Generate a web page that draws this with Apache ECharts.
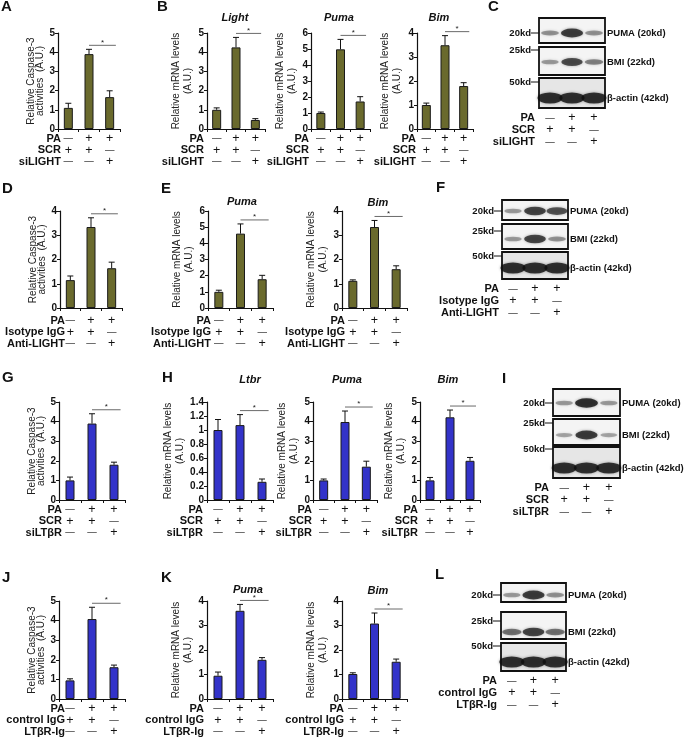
<!DOCTYPE html>
<html><head><meta charset="utf-8">
<script src="https://cdn.jsdelivr.net/npm/echarts@6/dist/echarts.min.js"></script>
<style>html,body{margin:0;padding:0;background:#fff}#c{width:685px;height:738px}</style>
</head><body><div id="c"></div>
<script>
// ================= DATA =================
const signPA    = ['—','+','+'];
const signCtrl  = ['+','+','—'];
const signTreat = ['—','—','+'];
const conditions = ['ctrl','PA','PA+treat'];

const rowsSiLight = ['PA','SCR','siLIGHT'];
const rowsAnti    = ['PA','Isotype IgG','Anti-LIGHT'];
const rowsSiLtbr  = ['PA','SCR','siLTβR'];
const rowsIg      = ['PA','control IgG','LTβR-Ig'];

const yTitleCasp = 'Relative Caspase-3\nactivities  (A.U.)';
const yTitleMrna = 'Relative mRNA levels\n(A.U.)';

// bar values and upper error (SEM)
const caspA = [1.10, 3.90, 1.66];  const caspAErr = [0.24, 0.25, 0.33];
const lightB = [1.00, 4.25, 0.47]; const lightBErr = [0.10, 0.52, 0.07];
const pumaB = [1.00, 4.98, 1.72];  const pumaBErr = [0.06, 0.62, 0.30];
const bimB = [1.00, 3.49, 1.79];   const bimBErr = [0.08, 0.40, 0.14];
const caspD = [1.15, 3.34, 1.64];  const caspDErr = [0.17, 0.38, 0.25];
const pumaE = [1.00, 4.60, 1.78];  const pumaEErr = [0.10, 0.60, 0.24];
const bimE = [1.12, 3.34, 1.60];   const bimEErr = [0.04, 0.27, 0.14];
const caspG = [1.00, 3.90, 1.80];  const caspGErr = [0.17, 0.50, 0.13];
const ltbrH = [1.00, 1.07, 0.26];  const ltbrHErr = [0.15, 0.15, 0.04];
const pumaH = [1.00, 3.98, 1.70];  const pumaHErr = [0.07, 0.56, 0.28];
const bimH = [1.00, 4.22, 2.00];   const bimHErr = [0.15, 0.37, 0.17];
const caspJ = [0.95, 4.08, 1.62];  const caspJErr = [0.08, 0.60, 0.11];
const pumaK = [0.95, 3.60, 1.60];  const pumaKErr = [0.15, 0.26, 0.09];
const bimK = [1.02, 3.08, 1.52];   const bimKErr = [0.05, 0.43, 0.11];

// western blot band intensities (0..1) per lane
const pumaBandC = [0.35, 0.90, 0.35]; const bmiBandC = [0.30, 0.80, 0.45]; const actinBandC = [1, 1, 1];
const pumaBandF = [0.30, 0.85, 0.75]; const bmiBandF = [0.30, 0.85, 0.35]; const actinBandF = [1, 1, 1];
const pumaBandI = [0.30, 1.00, 0.30]; const bmiBandI = [0.25, 0.90, 0.25]; const actinBandI = [1, 1, 1];
const pumaBandL = [0.30, 0.90, 0.35]; const bmiBandL = [0.55, 0.85, 0.55]; const actinBandL = [1, 1, 1];
const proteinLabels = ['PUMA (20kd)', 'BMI (22kd)', 'β-actin (42kd)'];
const kdLabels = ['20kd', '25kd', '50kd'];
const panelLetters = ['A','B','C','D','E','F','G','H','I','J','K','L'];

// ================= LAYOUT / STYLE =================
const FONT = '"Liberation Sans", Arial, sans-serif';
const OLIVE = '#6a6a2d';
const BLUE = '#3333c9';
const LH = 11.5;

const barLayout = [
  {v:caspA, e:caspAErr, max:5, step:1, x0:58, x1:120, y0:33, y1:129, c:OLIVE, rows:rowsSiLight, rowX:61, yt:yTitleCasp, gap:13, lh:9.5, m:4},
  {v:lightB, e:lightBErr, max:5, step:1, x0:207, x1:265, y0:33, y1:129, c:OLIVE, rows:rowsSiLight, rowX:204, yt:yTitleMrna, gap:12, lh:12, m:4, gene:'Light', gx:235, gy:18},
  {v:pumaB, e:pumaBErr, max:6, step:1, x0:311, x1:370, y0:33, y1:129, c:OLIVE, rows:rowsSiLight, rowX:309, yt:yTitleMrna, gap:12, lh:12, m:4, gene:'Puma', gx:339, gy:18},
  {v:bimB, e:bimBErr, max:4, step:1, x0:417, x1:473, y0:33, y1:129, c:OLIVE, rows:rowsSiLight, rowX:416, yt:yTitleMrna, gap:14, lh:12, m:4, gene:'Bim', gx:439, gy:18},
  {v:caspD, e:caspDErr, max:4, step:1, x0:60, x1:122, y0:211, y1:308, c:OLIVE, rows:rowsAnti, rowX:65, yt:yTitleCasp, gap:13, lh:9.5, m:7},
  {v:pumaE, e:pumaEErr, max:6, step:1, x0:208, x1:273, y0:211, y1:308, c:OLIVE, rows:rowsAnti, rowX:211, yt:yTitleMrna, gap:13, lh:12, m:7, gene:'Puma', gx:242, gy:202},
  {v:bimE, e:bimEErr, max:4, step:1, x0:342, x1:407, y0:211, y1:308, c:OLIVE, rows:rowsAnti, rowX:345, yt:yTitleMrna, gap:10, lh:12, m:7, gene:'Bim', gx:378, gy:203},
  {v:caspG, e:caspGErr, max:5, step:1, x0:59, x1:125, y0:402, y1:500, c:BLUE, rows:rowsSiLtbr, rowX:62, yt:yTitleCasp, gap:13, lh:9.5, m:4},
  {v:ltbrH, e:ltbrHErr, max:1.4, step:0.2, x0:207, x1:273, y0:402, y1:500, c:BLUE, rows:rowsSiLtbr, rowX:203, yt:yTitleMrna, gap:14, lh:12, m:4, gene:'Ltbr', gx:250, gy:380},
  {v:pumaH, e:pumaHErr, max:5, step:1, x0:313, x1:377, y0:402, y1:500, c:BLUE, rows:rowsSiLtbr, rowX:312, yt:yTitleMrna, gap:11, lh:12, m:4, gene:'Puma', gx:347, gy:380},
  {v:bimH, e:bimHErr, max:5, step:1, x0:420, x1:480, y0:402, y1:500, c:BLUE, rows:rowsSiLtbr, rowX:418, yt:yTitleMrna, gap:12, lh:12, m:4, gene:'Bim', gx:448, gy:380},
  {v:caspJ, e:caspJErr, max:5, step:1, x0:59, x1:125, y0:601, y1:699, c:BLUE, rows:rowsIg, rowX:65, yt:yTitleCasp, gap:13, lh:9.5, m:4},
  {v:pumaK, e:pumaKErr, max:4, step:1, x0:207, x1:273, y0:601, y1:699, c:BLUE, rows:rowsIg, rowX:204, yt:yTitleMrna, gap:12, lh:12, m:4, gene:'Puma', gx:248, gy:590},
  {v:bimK, e:bimKErr, max:4, step:1, x0:342, x1:407, y0:601, y1:699, c:BLUE, rows:rowsIg, rowX:344, yt:yTitleMrna, gap:10, lh:12, m:4, gene:'Bim', gx:378, gy:591}
];

const blotLayout = [
  {x0:539, x1:605, boxes:[[18,43],[47,75],[78,108]], kdY:[33,50,82], protY:[33,62,98], bands:[pumaBandC,bmiBandC,actinBandC], rows:rowsSiLight, rowX:535},
  {x0:502, x1:568, boxes:[[200,220],[224,249],[252,279]], kdY:[211,231,256], protY:[211,239,268], bands:[pumaBandF,bmiBandF,actinBandF], rows:rowsAnti, rowX:499},
  {x0:553, x1:620, boxes:[[389,416],[419,445],[447,478]], kdY:[403,423,449], protY:[403,435,468], bands:[pumaBandI,bmiBandI,actinBandI], rows:rowsSiLtbr, rowX:549},
  {x0:501, x1:566, boxes:[[583,602],[612,639],[643,671]], kdY:[595,621,646], protY:[595,632,662], bands:[pumaBandL,bmiBandL,actinBandL], rows:rowsIg, rowX:497}
];

const letterPos = [[1,7],[157,7],[488,7],[2,189],[161,189],[436,188],[2,378],[162,378],[502,379],[2,578],[161,578],[435,575]];

// ================= BUILD =================
function makeRich(lh){
  return {
    p:{fontSize:12.5, lineHeight:lh, fontFamily:FONT, color:'#111'},
    d:{fontSize:9.5, lineHeight:lh, fontFamily:FONT, color:'#111'}
  };
}
function signFmt(value, idx){
  const t = s => s === '+' ? '{p|+}' : '{d|—}';
  return [signPA[idx], signCtrl[idx], signTreat[idx]].map(t).join('\n');
}

const grids = [], xAxes = [], yAxes = [], series = [], graphics = [];
function addText(x, y, text, font, align, vAlign){
  graphics.push({type:'text', x, y, silent:true,
    style:{text, fill:'#111', font, align:align||'right', verticalAlign:vAlign||'middle'}});
}

barLayout.forEach((p, i) => {
  grids.push({left:p.x0, top:p.y0, width:p.x1-p.x0, height:p.y1-p.y0, containLabel:false, outerBoundsMode:'none'});
  xAxes.push({type:'category', gridIndex:i, data:conditions, boundaryGap:true,
    axisLine:{lineStyle:{color:'#111', width:1.2}},
    axisTick:{show:true, length:3, interval:0, alignWithLabel:false, lineStyle:{color:'#111', width:1}},
    axisLabel:{interval:0, margin:p.m, formatter:signFmt, rich:makeRich(LH)}});
  yAxes.push({type:'value', gridIndex:i, min:0, max:p.max, interval:p.step,
    axisLine:{show:true, lineStyle:{color:'#111', width:1.2}},
    axisTick:{show:true, length:3, lineStyle:{color:'#111'}},
    splitLine:{show:false},
    axisLabel:{fontSize:10, fontWeight:'bold', color:'#111', margin:3, fontFamily:FONT},
    name:p.yt, nameLocation:'middle', nameGap:p.gap, nameRotate:90,
    nameTextStyle:{fontSize:10, lineHeight:p.lh, color:'#222', fontFamily:FONT}});
  series.push({type:'bar', xAxisIndex:i, yAxisIndex:i, data:p.v, barWidth:9, silent:true,
    itemStyle:{color:p.c, borderColor:'#1a1a1a', borderWidth:1}});
  series.push({type:'custom', xAxisIndex:i, yAxisIndex:i, clip:false, silent:true, z:3,
    data:p.v.map((v,k)=>[k, v, v + p.e[k]]),
    renderItem(params, api){
      const k = api.value(0);
      const a = api.coord([k, api.value(1)]), b = api.coord([k, api.value(2)]);
      const cw = 3;
      return {type:'group', children:[
        {type:'line', shape:{x1:a[0], y1:a[1], x2:b[0], y2:b[1]}, style:{stroke:'#111', lineWidth:1}},
        {type:'line', shape:{x1:b[0]-cw, y1:b[1], x2:b[0]+cw, y2:b[1]}, style:{stroke:'#111', lineWidth:1}}
      ]};
    }});
  series.push({type:'custom', xAxisIndex:i, yAxisIndex:i, clip:false, silent:true, z:3,
    data:[[1, 2, p.v[1] + p.e[1]]],
    renderItem(params, api){
      const top = api.coord([api.value(0), api.value(2)]);
      const xb = api.coord([api.value(1), 0])[0];
      const bw = api.size([1, 0])[0];
      const y = top[1] - 4, xa = top[0], xe = xb + bw * 0.3;
      return {type:'group', children:[
        {type:'line', shape:{x1:xa, y1:y, x2:xe, y2:y}, style:{stroke:'#444', lineWidth:0.8}},
        {type:'text', style:{text:'*', x:(xa+xe)/2, y:y+1, align:'center', verticalAlign:'bottom', font:'8px ' + FONT, fill:'#222'}}
      ]};
    }});
  p.rows.forEach((r, j) => addText(p.rowX, p.y1 + p.m + LH/2 + j*LH, r, 'bold 11px ' + FONT, 'right'));
  if (p.gene) addText(p.gx, p.gy, p.gene, 'italic bold 11px ' + FONT, 'center');
});

blotLayout.forEach((b) => {
  b.boxes.forEach((bx, j) => {
    const gi = grids.length;
    const isActin = j === 2;
    grids.push({left:b.x0, top:bx[0], width:b.x1-b.x0, height:bx[1]-bx[0], show:true,
      borderColor:'#111', borderWidth:1.8, backgroundColor: isActin ? '#e6e6e6' : '#f4f4f4',
      containLabel:false, outerBoundsMode:'none'});
    xAxes.push({type:'category', gridIndex:gi, data:conditions, boundaryGap:true,
      axisLine:{show:false}, axisTick:{show:false},
      axisLabel: isActin ? {show:true, interval:0, margin:4, formatter:signFmt, rich:makeRich(12)} : {show:false}});
    yAxes.push({type:'value', gridIndex:gi, min:0, max:1, show:false});
    const yFrac = (bx[1] - b.protY[j]) / (bx[1] - bx[0]);
    series.push({type:'scatter', xAxisIndex:gi, yAxisIndex:gi, silent:true, clip:true,
      data: b.bands[j].map((v,k)=>[k, yFrac, v]),
      symbol:'circle',
      symbolSize:(val) => isActin ? [25, 11] : [15 + 8*val[2], 2.5 + 7*val[2]],
      itemStyle:{
        color:(pp) => 'rgba(15,15,15,' + (0.15 + 0.85*pp.value[2]).toFixed(2) + ')',
        shadowBlur:3, shadowColor:'rgba(0,0,0,0.45)'
      }});
    addText(b.x0 - 8, b.kdY[j], kdLabels[j], 'bold 9.5px ' + FONT, 'right');
    graphics.push({type:'line', silent:true, shape:{x1:b.x0-8, y1:b.kdY[j], x2:b.x0, y2:b.kdY[j]}, style:{stroke:'#111', lineWidth:1}});
    addText(b.x1 + 2, b.protY[j], proteinLabels[j], 'bold 9.5px ' + FONT, 'left');
  });
  const bottom = b.boxes[2][1];
  b.rows.forEach((r, j) => addText(b.rowX, bottom + 10 + j*12, r, 'bold 11px ' + FONT, 'right'));
});

panelLetters.forEach((L, i) => addText(letterPos[i][0], letterPos[i][1], L, 'bold 15px ' + FONT, 'left'));

const chart = echarts.init(document.getElementById('c'), null, {renderer:'canvas'});
chart.setOption({
  animation:false,
  backgroundColor:'#fff',
  textStyle:{fontFamily:FONT},
  grid:grids, xAxis:xAxes, yAxis:yAxes, series, graphic:graphics
});
</script></body></html>
